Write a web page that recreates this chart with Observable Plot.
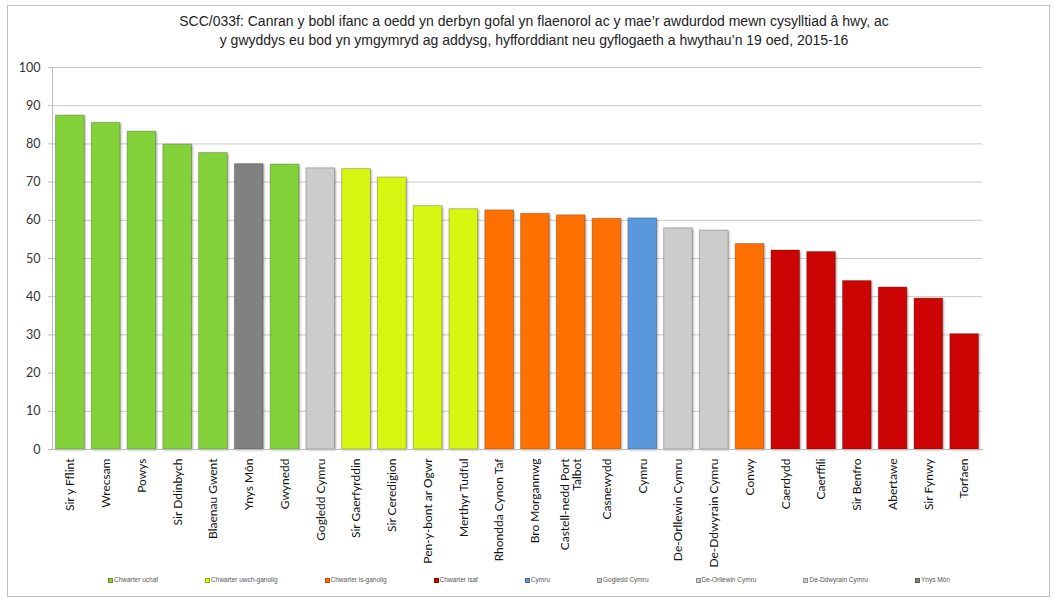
<!DOCTYPE html>
<html><head><meta charset="utf-8">
<script src="https://cdn.jsdelivr.net/npm/d3@7"></script>
<script src="https://cdn.jsdelivr.net/npm/@observablehq/plot@0.6"></script>
<style>
body{margin:0;background:#fff;}
#frame{position:absolute;left:7px;top:5px;width:1043px;height:592px;border:1px solid #bdbdbd;box-sizing:border-box;}
#title{position:absolute;left:7px;top:12px;width:1054px;text-align:center;font:14px "Liberation Sans";color:#222;line-height:19px;}
#chart{position:absolute;left:0;top:55px;}
#legend{position:absolute;left:108px;top:576px;display:flex;gap:47px;font:6.5px "Liberation Sans";color:#555;white-space:nowrap;}
#legend span.sw{display:inline-block;width:5px;height:5px;margin-right:1px;vertical-align:-0.5px;border:0.5px solid rgba(0,0,0,0.3);box-sizing:border-box;}
g.bars rect{filter:drop-shadow(1px 1px 1px rgba(0,0,0,0.35));}
</style>
</head><body>
<div id="frame"></div>
<div id="title">SCC/033f: Canran y bobl ifanc a oedd yn derbyn gofal yn flaenorol ac y mae’r awdurdod mewn cysylltiad â hwy, ac<br>y gwyddys eu bod yn ymgymryd ag addysg, hyfforddiant neu gyflogaeth a hwythau’n 19 oed, 2015-16</div>
<div id="chart"></div>
<div id="legend"></div>
<script>
const categories = ["Sir y Fflint","Wrecsam","Powys","Sir Ddinbych","Blaenau Gwent","Ynys Môn","Gwynedd","Gogledd Cymru","Sir Gaerfyrddin","Sir Ceredigion","Pen-y-bont ar Ogwr","Merthyr Tudful","Rhondda Cynon Taf","Bro Morgannwg","Castell-nedd Port Talbot","Casnewydd","Cymru","De-Orllewin Cymru","De-Ddwyrain Cymru","Conwy","Caerdydd","Caerffili","Sir Benfro","Abertawe","Sir Fynwy","Torfaen"];
const xLabels = ["Sir y Fflint","Wrecsam","Powys","Sir Ddinbych","Blaenau Gwent","Ynys Môn","Gwynedd","Gogledd Cymru","Sir Gaerfyrddin","Sir Ceredigion","Pen-y-bont ar Ogwr","Merthyr Tudful","Rhondda Cynon Taf","Bro Morgannwg","Castell-nedd Port\nTalbot","Casnewydd","Cymru","De-Orllewin Cymru","De-Ddwyrain Cymru","Conwy","Caerdydd","Caerffili","Sir Benfro","Abertawe","Sir Fynwy","Torfaen"];
const values = [87.4,85.5,83.2,79.8,77.6,74.7,74.6,73.6,73.4,71.2,63.7,62.9,62.6,61.7,61.3,60.4,60.5,57.9,57.3,53.8,52.1,51.7,44.1,42.4,39.5,30.2];
const groups = ["Chwarter uchaf","Chwarter uchaf","Chwarter uchaf","Chwarter uchaf","Chwarter uchaf","Ynys Môn","Chwarter uchaf","Gogledd Cymru","Chwarter uwch-ganolig","Chwarter uwch-ganolig","Chwarter uwch-ganolig","Chwarter uwch-ganolig","Chwarter is-ganolig","Chwarter is-ganolig","Chwarter is-ganolig","Chwarter is-ganolig","Cymru","De-Orllewin Cymru","De-Ddwyrain Cymru","Chwarter is-ganolig","Chwarter isaf","Chwarter isaf","Chwarter isaf","Chwarter isaf","Chwarter isaf","Chwarter isaf"];
const legendGroups = ["Chwarter uchaf","Chwarter uwch-ganolig","Chwarter is-ganolig","Chwarter isaf","Cymru","Gogledd Cymru","De-Orllewin Cymru","De-Ddwyrain Cymru","Ynys Môn"];
const legendColors = ["#84d23a","#d6f712","#ff7000","#cc0404","#5b97dd","#cccccc","#cccccc","#cccccc","#818181"];
const yTicks = [0,10,20,30,40,50,60,70,80,90,100];

const data = categories.map((c, i) => ({name: c, value: values[i], group: groups[i]}));

const chart = Plot.plot({
  width: 1054,
  height: 522,
  marginTop: 12,
  marginBottom: 128,
  marginLeft: 52,
  marginRight: 72,
  x: {domain: categories, paddingInner: 0.2, paddingOuter: 0.1, round: false, label: null},
  y: {domain: [0, 100], label: null},
  color: {domain: legendGroups, range: legendColors},
  style: {fontFamily: "Lato", fontSize: "12px", color: "#333", background: "transparent"},
  marks: [
    Plot.gridY(yTicks, {stroke: "#c8c8c8", strokeOpacity: 1}),
    Plot.barY(data, {x: "name", y: "value", fill: "group", stroke: "#000", strokeOpacity: 0.22, className: "bars"}),
    Plot.axisY(yTicks, {tickSize: 4, tickPadding: 8, stroke: "#bbb", fill: "#333", fontSize: 12.5, label: null}),
    Plot.axisX({tickSize: 0, tickPadding: 9, tickRotate: -90, fill: "#111", tickFormat: d => xLabels[categories.indexOf(d)], label: null}),
    Plot.frame({anchor: "left", stroke: "#bbb"}),
    Plot.frame({anchor: "bottom", stroke: "#bbb"})
  ]
});
document.getElementById("chart").appendChild(chart);

const legend = document.getElementById("legend");
legendGroups.forEach((g, i) => {
  const item = document.createElement("div");
  const sw = document.createElement("span");
  sw.className = "sw";
  sw.style.background = legendColors[i];
  item.appendChild(sw);
  item.appendChild(document.createTextNode(g));
  legend.appendChild(item);
});
</script>
</body></html>
